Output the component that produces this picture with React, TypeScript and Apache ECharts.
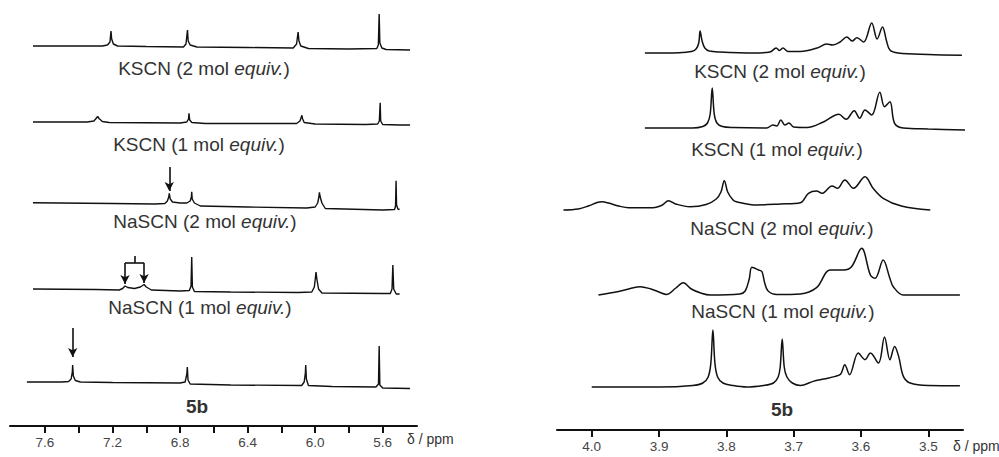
import React, { useEffect, useRef } from "react";
import * as echarts from "echarts";

// ---------- axis ticks ----------
const leftTickValues = [5.6, 5.8, 6.0, 6.2, 6.4, 6.6, 6.8, 7.0, 7.2, 7.4, 7.6];
const leftTickLabels = [5.6, 6.0, 6.4, 6.8, 7.2, 7.6];
const rightTickValues = [3.5, 3.6, 3.7, 3.8, 3.9, 4.0];
const axisTitle = "δ / ppm";

// ---------- trace labels ----------
const traceLabels = [
  "KSCN (2 mol {i|equiv.})",
  "KSCN (1 mol {i|equiv.})",
  "NaSCN (2 mol {i|equiv.})",
  "NaSCN (1 mol {i|equiv.})",
  "{b|5b}",
];

// ---------- left panel spectra: [ppm, intensity above baseline] ----------
const leftKSCN2: [number, number][] = [
  [7.671, 1], [7.26, 1], [7.23, 2], [7.215, 5], [7.209, 16], [7.205, 8], [7.195, 3], [7.17, 1],
  [7.0, 0.5], [6.78, 0], [6.765, 3], [6.756, 17], [6.752, 6], [6.74, 2], [6.7, 0], [6.4, -0.5],
  [6.13, -1], [6.11, 3], [6.101, 15], [6.096, 6], [6.085, 1], [6.04, -1.5], [5.8, -2],
  [5.635, -1.5], [5.626, 2], [5.621, 33], [5.617, 4], [5.605, -1], [5.58, -2.5], [5.438, -3],
];
const leftKSCN1: [number, number][] = [
  [7.671, 1], [7.35, 1], [7.31, 2], [7.295, 5], [7.288, 6.5], [7.28, 4.5], [7.26, 1.5], [7.22, 0.5],
  [6.8, 0], [6.76, 1], [6.75, 4], [6.747, 9.7], [6.743, 3], [6.73, 0.5], [6.65, -0.5], [6.4, -0.5],
  [6.11, -0.5], [6.09, 2], [6.082, 6], [6.079, 7.7], [6.074, 4], [6.065, 0.5], [6.0, -1], [5.7, -1.5],
  [5.63, -1], [5.62, 2], [5.615, 20.3], [5.612, 2], [5.6, -1.5], [5.5, -2], [5.438, -2],
];
const leftNaSCN2: [number, number][] = [
  [7.671, 0.3], [7.2, -0.5], [6.95, -1], [6.89, -0.5], [6.875, 2], [6.867, 6], [6.864, 9.7],
  [6.858, 4], [6.845, 1], [6.8, 0], [6.76, 0], [6.74, 2], [6.733, 6], [6.731, 11.3], [6.728, 4],
  [6.715, 0], [6.68, -3], [6.4, -4], [6.05, -5], [6.0, -4], [5.985, 0], [5.978, 6], [5.975, 10.7],
  [5.97, 6], [5.96, 0], [5.94, -5.5], [5.6, -7], [5.53, -6.5], [5.524, -3], [5.521, 22.3],
  [5.518, -2], [5.51, -6], [5.5, -6.5],
];
const leftNaSCN1: [number, number][] = [
  [7.671, 0], [7.3, -0.5], [7.16, -1], [7.14, 0.5], [7.126, 3], [7.11, 1.5], [7.07, 0.5],
  [7.035, 2], [7.013, 4.5], [7.0, 2], [6.97, -1], [6.8, -2], [6.745, -1.5], [6.735, 3], [6.731, 32],
  [6.727, 2], [6.715, -2.5], [6.5, -3], [6.1, -3.5], [6.02, -3], [6.005, 2], [5.998, 12],
  [5.995, 17], [5.99, 10], [5.98, 0], [5.96, -4], [5.6, -4.5], [5.555, -4.5], [5.545, 0],
  [5.54, 24], [5.535, 0], [5.52, -5], [5.5, -5],
];
const left5b: [number, number][] = [
  [7.707, 0], [7.5, 0], [7.46, 0.5], [7.445, 3], [7.438, 10], [7.436, 17], [7.432, 6], [7.42, 1.5],
  [7.39, 0], [7.2, -0.5], [6.8, -1], [6.77, 0], [6.76, 8], [6.757, 15], [6.753, 2], [6.74, -2],
  [6.5, -3], [6.08, -3.5], [6.065, 0], [6.058, 9], [6.056, 17], [6.052, 3], [6.04, -3.5],
  [5.9, -4.5], [5.64, -5], [5.625, -2], [5.621, 36], [5.617, -3], [5.6, -6], [5.438, -6.5],
];

// ---------- right panel spectra ----------
const rightKSCN2: [number, number][] = [
  [3.921, 0], [3.87, 0.3], [3.852, 1.5], [3.845, 4], [3.841, 10], [3.839, 22], [3.836, 12],
  [3.832, 5], [3.825, 2], [3.81, 1], [3.76, 0], [3.735, 1], [3.726, 5], [3.721, 2.5], [3.716, 5],
  [3.708, 1.5], [3.69, 1.5], [3.665, 5], [3.651, 9], [3.642, 8], [3.631, 11], [3.621, 16],
  [3.613, 12], [3.606, 15.3], [3.596, 11], [3.584, 30], [3.576, 14], [3.568, 26], [3.562, 12],
  [3.557, 3], [3.545, 0], [3.5, -1.5], [3.45, -2.3],
];
const rightKSCN1: [number, number][] = [
  [3.921, 0], [3.85, 0], [3.835, 1.5], [3.828, 5], [3.824, 14], [3.821, 40], [3.818, 14],
  [3.814, 5], [3.806, 1.5], [3.79, 0.5], [3.74, 0], [3.731, 3], [3.725, 2], [3.719, 8],
  [3.713, 3], [3.707, 5], [3.7, 1], [3.68, 0.5], [3.655, 6.3], [3.633, 13.7], [3.622, 8.7],
  [3.61, 17.3], [3.602, 9.7], [3.594, 18], [3.584, 13], [3.572, 35.7], [3.565, 21.3],
  [3.557, 26.3], [3.55, 4.7], [3.537, 0], [3.5, -1], [3.444, -2],
];
const rightNaSCN2: [number, number][] = [
  [4.042, 0], [4.02, 1], [4.005, 4], [3.992, 7.5], [3.985, 8.3], [3.975, 7], [3.96, 4],
  [3.945, 2.3], [3.909, 2.3], [3.895, 5], [3.886, 9.3], [3.875, 6], [3.854, 3.3], [3.83, 5.5],
  [3.815, 11], [3.808, 18], [3.803, 29.3], [3.798, 18], [3.79, 10], [3.785, 8.3], [3.755, 5],
  [3.72, 6], [3.69, 7.3], [3.678, 16.7], [3.666, 19], [3.658, 16.7], [3.643, 24], [3.635, 21.7],
  [3.624, 30], [3.611, 21.7], [3.594, 33.3], [3.582, 21.7], [3.567, 11.7], [3.54, 4], [3.497, 0],
];
const rightNaSCN1: [number, number][] = [
  [3.99, 0], [3.96, 3.5], [3.94, 7], [3.928, 8.3], [3.912, 6], [3.9, 3], [3.889, 0.5],
  [3.875, 7], [3.864, 12.3], [3.852, 6], [3.838, 2], [3.824, 0], [3.78, 1], [3.772, 4],
  [3.766, 16], [3.762, 27.7], [3.752, 25], [3.747, 23.3], [3.743, 12], [3.738, 4], [3.725, 0.5],
  [3.69, 1], [3.666, 7.3], [3.646, 25], [3.626, 25], [3.614, 28.3], [3.599, 46.7], [3.586, 20],
  [3.579, 16.7], [3.567, 35], [3.557, 16.7], [3.552, 8.3], [3.537, 0], [3.453, 0],
];
const right5b: [number, number][] = [
  [4.0, 0], [3.9, 0], [3.85, 1.5], [3.835, 4], [3.827, 10], [3.823, 24], [3.82, 57], [3.817, 24],
  [3.813, 10], [3.805, 4], [3.79, 1.5], [3.77, 0], [3.745, 1.5], [3.73, 4], [3.723, 10],
  [3.72, 20], [3.717, 48], [3.714, 20], [3.71, 10], [3.702, 4], [3.69, 1.5], [3.671, 5.6],
  [3.655, 8], [3.638, 10.6], [3.63, 13], [3.624, 22.3], [3.617, 12.3], [3.604, 34], [3.594, 27.3],
  [3.586, 34], [3.574, 24], [3.565, 50], [3.557, 27.3], [3.55, 40.6], [3.544, 30.6], [3.537, 10.6],
  [3.527, 4], [3.5, 1.5], [3.453, 1.3],
];

const leftTraces = [leftKSCN2, leftKSCN1, leftNaSCN2, leftNaSCN1, left5b];
const rightTraces = [rightKSCN2, rightKSCN1, rightNaSCN2, rightNaSCN1, right5b];

// ---------- layout (pixel-like units of the hidden y axes) ----------
const LEFT_H = 426;
const RIGHT_H = 430;
const leftBaselines = [47, 123, 203, 289, 382];
const rightBaselines = [53, 128, 210, 295, 387];
const leftLabelPos = [[204, 68], [199, 144], [205, 221], [200, 307], [197, 406]];
const rightLabelPos = [[780, 71], [777, 149], [782, 228], [783, 311], [782, 409]];

const FONT = "'Liberation Sans', Arial, Helvetica, sans-serif";
const INK = "#111";
const TEXT = "#333";
const LABEL_SIZE = 19;

export default function App() {
  const ref = useRef<HTMLDivElement>(null);

  useEffect(() => {
    if (!ref.current) return;
    const chart = echarts.init(ref.current, null, { renderer: "svg" });

    const arrowLine = (x: number, y1: number, y2: number) => [
      { coord: [x, y1], symbol: "none" },
      { coord: [x, y2], symbol: "arrow" },
    ];
    const plainLine = (x1: number, y1: number, x2: number, y2: number) => [
      { coord: [x1, y1], symbol: "none" },
      { coord: [x2, y2], symbol: "none" },
    ];

    const markFor = (side: string, idx: number) => {
      let data: any[] = [];
      if (side === "L" && idx === 2) data = [arrowLine(6.864, 167, 191)];
      if (side === "L" && idx === 3)
        data = [
          plainLine(7.126, 263, 7.013, 263),
          plainLine(7.07, 256, 7.07, 263),
          arrowLine(7.126, 263, 284),
          arrowLine(7.013, 263, 283),
        ];
      if (side === "L" && idx === 4) data = [arrowLine(7.436, 328, 357)];
      if (!data.length) return undefined;
      return {
        silent: true,
        symbolSize: [7, 9],
        label: { show: false },
        lineStyle: { color: INK, width: 1.6, type: "solid" },
        emphasis: { disabled: true },
        data,
      };
    };

    const series: any[] = [];
    leftTraces.forEach((tr, i) => {
      series.push({
        type: "line",
        xAxisIndex: 0,
        yAxisIndex: 0,
        showSymbol: false,
        silent: true,
        clip: false,
        lineStyle: { color: INK, width: 1.4 },
        data: tr.map(([p, v]) => [p, leftBaselines[i] - v]),
        markLine: markFor("L", i),
      });
    });
    rightTraces.forEach((tr, i) => {
      series.push({
        type: "line",
        xAxisIndex: 1,
        yAxisIndex: 1,
        showSymbol: false,
        silent: true,
        clip: false,
        smooth: 0.35,
        lineStyle: { color: INK, width: 1.5 },
        data: tr.map(([p, v]) => [p, rightBaselines[i] - v]),
      });
    });

    const rich = {
      i: { fontStyle: "italic", fontSize: LABEL_SIZE, fontFamily: FONT, fill: TEXT },
      b: { fontWeight: "bold", fontSize: LABEL_SIZE, fontFamily: FONT, fill: TEXT },
    };
    const labelText = (text: string, x: number, y: number) => ({
      type: "text",
      x,
      y,
      silent: true,
      style: {
        text,
        fontSize: LABEL_SIZE,
        fontFamily: FONT,
        fill: TEXT,
        align: "center",
        verticalAlign: "middle",
        rich,
      },
    });

    const graphics: any[] = [];
    traceLabels.forEach((t, i) => {
      graphics.push(labelText(t, leftLabelPos[i][0], leftLabelPos[i][1]));
      graphics.push(labelText(t, rightLabelPos[i][0], rightLabelPos[i][1]));
    });
    graphics.push({
      type: "text",
      x: 407,
      y: 439,
      silent: true,
      style: { text: axisTitle, fontSize: 14, fontFamily: FONT, fill: TEXT, align: "left", verticalAlign: "middle" },
    });
    graphics.push({
      type: "text",
      x: 953,
      y: 446,
      silent: true,
      style: { text: axisTitle, fontSize: 14, fontFamily: FONT, fill: TEXT, align: "left", verticalAlign: "middle" },
    });

    const xAxisBase = (gridIndex: number, min: number, max: number, ticks: number[], labels: number[]) => ({
      type: "value",
      gridIndex,
      min,
      max,
      inverse: true,
      axisLine: { show: true, onZero: false, lineStyle: { color: INK, width: 2 } },
      axisTick: { show: true, inside: false, length: 7, lineStyle: { color: INK, width: 2 }, customValues: ticks },
      axisLabel: {
        show: true,
        customValues: labels,
        formatter: (v: number) => v.toFixed(1),
        margin: 9,
        color: "#444",
        fontSize: 13.5,
        fontFamily: FONT,
      },
      splitLine: { show: false },
    });

    chart.setOption({
      animation: false,
      backgroundColor: "#fff",
      grid: [
        { left: 10, top: 0, width: 407, height: LEFT_H },
        { left: 557, top: 0, width: 406, height: RIGHT_H },
      ],
      xAxis: [
        xAxisBase(0, 5.397, 7.807, leftTickValues, leftTickLabels),
        xAxisBase(1, 3.4484, 4.0516, rightTickValues, rightTickValues),
      ],
      yAxis: [
        { type: "value", gridIndex: 0, min: 0, max: LEFT_H, inverse: true, show: false },
        { type: "value", gridIndex: 1, min: 0, max: RIGHT_H, inverse: true, show: false },
      ],
      series,
      graphic: graphics,
    });

    return () => chart.dispose();
  }, []);

  return (
    <div
      ref={ref}
      style={{ position: "absolute", left: 0, top: 0, width: 999, height: 457, background: "#fff" }}
    />
  );
}
